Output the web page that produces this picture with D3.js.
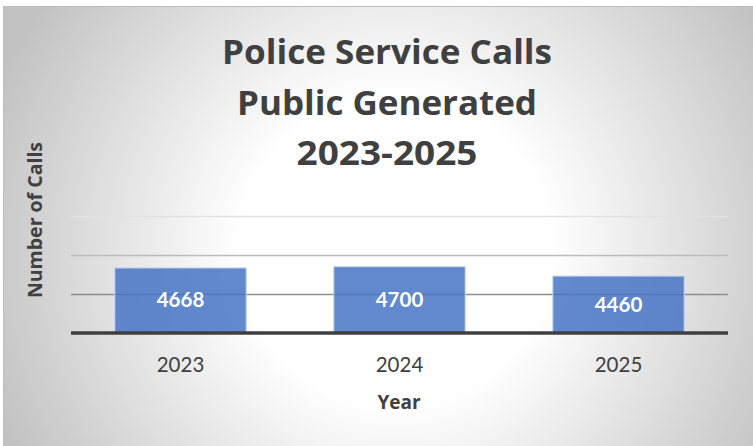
<!DOCTYPE html>
<html><head><meta charset="utf-8">
<script src="https://cdn.jsdelivr.net/npm/d3@7"></script>
<style>html,body{margin:0;padding:0;background:#fff;}svg{display:block;}</style>
</head><body>
<svg id="chart" width="753" height="446"></svg>
<script>
const categories = ["2023", "2024", "2025"];
const values = [4668, 4700, 4460];
const yTicks = [3000, 4000, 5000, 6000];
const titleLines = ["Police Service Calls", "Public Generated", "2023-2025"];
const xTitle = "Year";
const yTitle = "Number of Calls";

const svg = d3.select("#chart");
const W = 753, H = 446;
const defs = svg.append("defs");
const rg = defs.append("radialGradient").attr("id", "bg")
  .attr("gradientUnits", "userSpaceOnUse")
  .attr("cx", 395).attr("cy", 250).attr("r", 430);
rg.append("stop").attr("offset", "0").attr("stop-color", "#ffffff");
rg.append("stop").attr("offset", "0.36").attr("stop-color", "#ffffff");
rg.append("stop").attr("offset", "1").attr("stop-color", "#c2c2c2");

svg.append("rect").attr("x", 0).attr("y", 0).attr("width", W).attr("height", H).attr("fill", "#fff");
svg.append("rect").attr("x", 3.5).attr("y", 6.5).attr("width", W - 3).attr("height", H - 6)
  .attr("fill", "url(#bg)").attr("stroke", "#bdbdbd").attr("stroke-width", 1);

const plot = {left: 71, right: 728, top: 216, bottom: 333};
const x = d3.scaleBand().domain(categories).range([plot.left, plot.right]).paddingInner(0.4).paddingOuter(0.2);
const y = d3.scaleLinear().domain([3000, 6000]).range([plot.bottom, plot.top]);

const gridColors = {4000: "#8e8e8e", 5000: "#bcbcbc", 6000: "#e2e2e2"};
svg.append("g").selectAll("line").data(yTicks.filter(d => d > 3000)).join("line")
  .attr("x1", plot.left).attr("x2", plot.right)
  .attr("y1", d => Math.round(y(d)) + 0.5).attr("y2", d => Math.round(y(d)) + 0.5)
  .attr("stroke", d => gridColors[d]).attr("stroke-width", 1.5);

svg.append("g").selectAll("rect").data(values).join("rect")
  .attr("x", (d, i) => x(categories[i]))
  .attr("width", x.bandwidth())
  .attr("y", d => y(d))
  .attr("height", d => y(3000) - y(d))
  .attr("fill", "#4472c4").attr("fill-opacity", 0.84)
  .attr("stroke", "#c9d6ee").attr("stroke-width", 1);

// baseline axis
svg.append("line").attr("x1", plot.left).attr("x2", plot.right)
  .attr("y1", y(3000)).attr("y2", y(3000))
  .attr("stroke", "#3f3f3f").attr("stroke-width", 3.5);

// x axis labels
const xAxis = d3.axisBottom(x).tickSize(0).tickPadding(0);
const gx = svg.append("g").attr("transform", `translate(0,${plot.bottom})`).call(xAxis);
gx.select(".domain").remove();
gx.selectAll("text").attr("font-family", "Lato, sans-serif").attr("font-size", 20.5)
  .attr("fill", "#404040").attr("dy", null).attr("y", 38.5);

// data labels
svg.append("g").selectAll("text").data(values).join("text")
  .attr("x", (d, i) => x(categories[i]) + x.bandwidth() / 2)
  .attr("y", d => (y(d) + y(3000)) / 2 + 7)
  .attr("text-anchor", "middle")
  .attr("font-family", "Lato, sans-serif").attr("font-weight", "bold").attr("font-size", 20.5)
  .attr("fill", "#fff").text(d => d);

// title (fit measured widths)
const titleWidths = [330, 300, 181];
svg.append("g").selectAll("text").data(titleLines).join("text")
  .attr("x", 387).attr("y", (d, i) => 64 + i * 50.5)
  .attr("text-anchor", "middle")
  .attr("font-family", "'Open Sans', sans-serif").attr("font-weight", "bold").attr("font-size", 33.5)
  .attr("textLength", (d, i) => titleWidths[i]).attr("lengthAdjust", "spacingAndGlyphs")
  .attr("fill", "#404040").text(d => d);

svg.append("text").attr("x", 399).attr("y", 409)
  .attr("text-anchor", "middle")
  .attr("font-family", "'Open Sans', sans-serif").attr("font-weight", "bold").attr("font-size", 19)
  .attr("fill", "#404040").text(xTitle);

svg.append("text").attr("transform", "translate(42,220) rotate(-90)")
  .attr("text-anchor", "middle")
  .attr("font-family", "'Open Sans', sans-serif").attr("font-weight", "bold").attr("font-size", 19.5)
  .attr("fill", "#404040").text(yTitle);
</script>
</body></html>
